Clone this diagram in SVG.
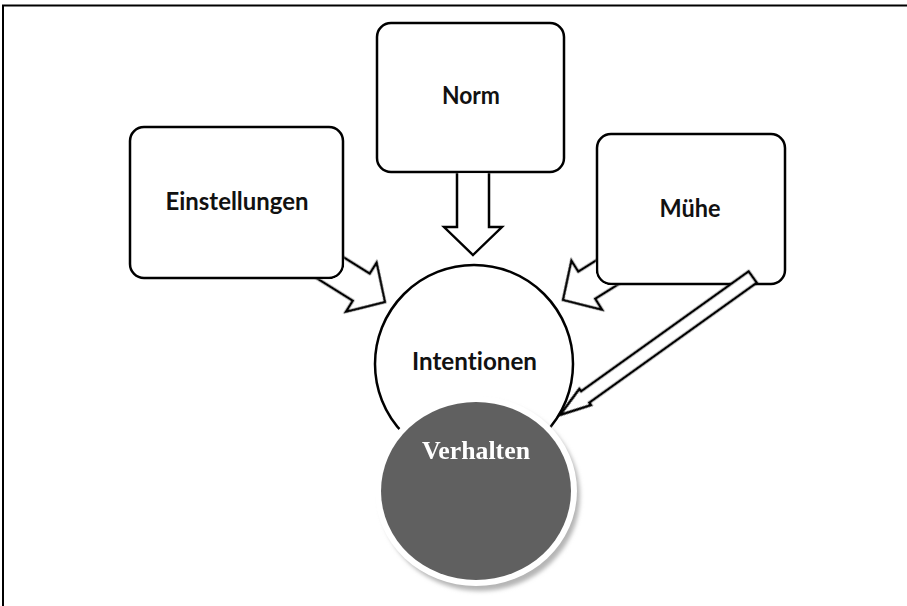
<svg xmlns="http://www.w3.org/2000/svg" width="907" height="606" viewBox="0 0 907 606">
<style>
.box{fill:#fff;stroke:#000;stroke-width:2.5}
.arr{fill:#fff;stroke:#000;stroke-width:2.5;stroke-linejoin:miter}
.lbl{font-family:Lato,"Open Sans",sans-serif;font-weight:bold;font-size:24px;fill:#111;text-anchor:middle;font-variant-ligatures:none;font-feature-settings:"liga" 0}
.vlbl{font-family:"Liberation Serif",serif;font-weight:bold;font-size:25px;fill:#fff;text-anchor:middle}
</style>
<defs>
<mask id="mBox" maskUnits="userSpaceOnUse" x="0" y="0" width="907" height="606">
<rect x="0" y="0" width="907" height="606" fill="#fff"/>
<rect x="128.75" y="125.75" width="215.5" height="153.5" rx="15.25" fill="#000"/>
<rect x="375.75" y="21.75" width="189.5" height="151.5" rx="15.25" fill="#000"/>
<rect x="595.75" y="132.75" width="190.5" height="152.5" rx="15.25" fill="#000"/>
</mask>
<filter id="blur" x="-10%" y="-10%" width="120%" height="120%"><feGaussianBlur stdDeviation="2"/></filter>
<path id="block" d="M0,0 L-28,-29 L-28,-16 L-110,-16 L-110,16 L-28,16 L-28,29 Z"/>
</defs>
<rect x="0" y="0" width="907" height="606" fill="#fff"/>
<path d="M3,606 V5.5 H907" fill="none" stroke="#000" stroke-width="2"/>

<g id="intentionen">
<circle cx="474" cy="364" r="99" class="box"/>
<text x="474.5" y="370" class="lbl" textLength="125" lengthAdjust="spacingAndGlyphs">Intentionen</text>
</g>

<g id="einstellungen">
<rect x="130" y="127" width="213" height="151" rx="14" class="box"/>
<text x="237" y="210" class="lbl" textLength="143" lengthAdjust="spacingAndGlyphs">Einstellungen</text>
</g>
<g id="norm">
<rect x="377" y="23" width="187" height="149" rx="14" class="box"/>
<text x="471" y="104" class="lbl" textLength="58" lengthAdjust="spacingAndGlyphs">Norm</text>
</g>
<g id="muehe">
<rect x="597" y="134" width="188" height="150" rx="14" class="box"/>
<text x="690" y="217" class="lbl" textLength="61" lengthAdjust="spacingAndGlyphs">Mühe</text>
</g>

<g id="connectors">
<g mask="url(#mBox)">
<use href="#block" class="arr" transform="translate(385,302) rotate(32)"/>
<use href="#block" class="arr" transform="translate(473,255) rotate(90)"/>
<use href="#block" class="arr" transform="translate(563,300) rotate(148)"/>
</g>
<path class="arr" d="M0,0 L-31,-10 L-31,-7 L-237,-7 L-237,7 L-31,7 L-31,10 Z" transform="translate(560,415) rotate(144.4)"/>
</g>

<g id="verhalten">
<ellipse cx="480" cy="496" rx="100" ry="95" fill="#b5b5b5" filter="url(#blur)"/>
<ellipse cx="476" cy="491" rx="101" ry="95" fill="#fff"/>
<ellipse cx="476" cy="491" rx="95" ry="89" fill="#606060"/>
<text x="476" y="459" class="vlbl" textLength="108" lengthAdjust="spacingAndGlyphs">Verhalten</text>
</g>
</svg>
